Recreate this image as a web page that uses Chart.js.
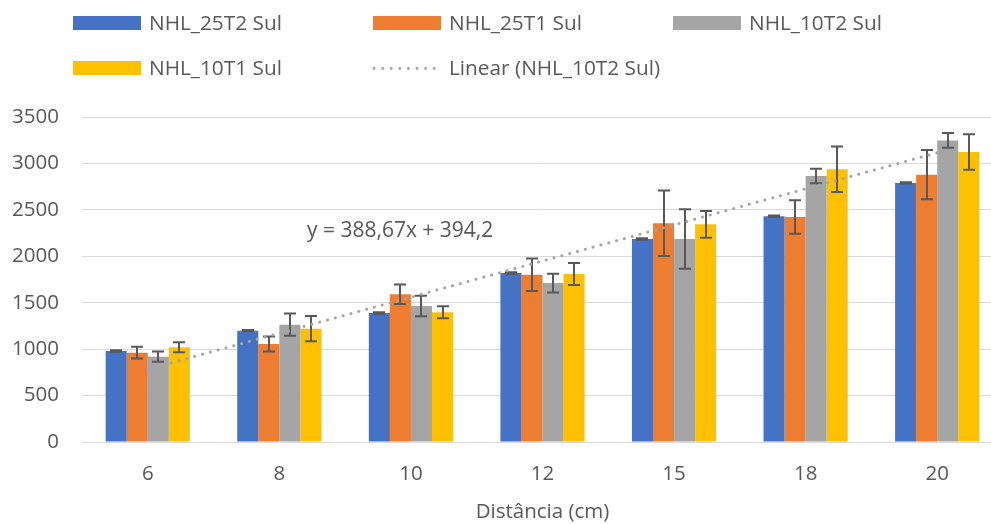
<!DOCTYPE html>
<html>
<head>
<meta charset="utf-8">
<title>Distância (cm)</title>
<script src="https://cdn.jsdelivr.net/npm/chart.js@4.4.1/dist/chart.umd.min.js"></script>
<style>
  html, body { margin: 0; padding: 0; background: #ffffff; overflow: hidden; width: 991px; height: 524px; }
  canvas { display: block; }
</style>
</head>
<body>
<canvas id="chart" width="1004" height="524" style="width:1004px;height:524px"></canvas>
<script>
// Distance categories (cm)
const CATEGORIES = ['6', '8', '10', '12', '15', '18', '20'];

// Series names
const NAME_25T2 = 'NHL_25T2 Sul';
const NAME_25T1 = 'NHL_25T1 Sul';
const NAME_10T2 = 'NHL_10T2 Sul';
const NAME_10T1 = 'NHL_10T1 Sul';
const TREND_NAME = 'Linear (NHL_10T2 Sul)';

// Mean values per distance
const NHL_25T2 = [980, 1199, 1389, 1820, 2186, 2431, 2790];
const NHL_25T1 = [962, 1055, 1591, 1802, 2355, 2423, 2879];
const NHL_10T2 = [919, 1263, 1465, 1712, 2186, 2865, 3248];
const NHL_10T1 = [1020, 1220, 1397, 1809, 2344, 2937, 3123];

// Standard deviations (error bars)
const NHL_25T2_ERR = [8, 7, 7, 8, 7, 7, 7];
const NHL_25T1_ERR = [63, 80, 104, 175, 353, 181, 265];
const NHL_10T2_ERR = [56, 120, 111, 101, 321, 79, 80];
const NHL_10T1_ERR = [54, 136, 65, 118, 144, 246, 190];

// Linear trendline fitted on NHL_10T2 Sul (x = category position 1..7)
const TREND_SLOPE = 388.67;
const TREND_INTERCEPT = 394.2;

// Value axis
const Y_MIN = 0;
const Y_MAX = 3500;
const Y_STEP = 500;
const X_TITLE = 'Distância (cm)';

const COLORS = {
  blue: '#4472C4',
  orange: '#ED7D31',
  gray: '#A5A5A5',
  yellow: '#FFC000',
  text: '#595959',
  grid: '#D9D9D9',
  errorBar: '#595959'
};
const FONT = '"Open Sans", "DejaVu Sans", sans-serif';

const trendValues = CATEGORIES.map((_, i) => TREND_SLOPE * (i + 1) + TREND_INTERCEPT);
const fmtPt = v => String(v).replace('.', ',');
const TREND_LABEL = 'y = ' + fmtPt(TREND_SLOPE) + 'x + ' + fmtPt(TREND_INTERCEPT);

// Error bars drawn right after each bar dataset (so the trendline stays on top)
const errorBarPlugin = {
  id: 'errorBars',
  afterDatasetDraw(chart, args) {
    const ds = chart.data.datasets[args.index];
    if (!ds.errors) return;
    const ctx = chart.ctx;
    const yScale = chart.scales.y;
    const cap = 6;
    ctx.save();
    ctx.strokeStyle = COLORS.errorBar;
    ctx.lineWidth = 2;
    args.meta.data.forEach((bar, i) => {
      const v = ds.data[i];
      const e = ds.errors[i];
      const x = Math.round(bar.x);
      const top = yScale.getPixelForValue(v + e);
      const bot = yScale.getPixelForValue(v - e);
      ctx.beginPath();
      ctx.moveTo(x, top); ctx.lineTo(x, bot);
      ctx.moveTo(x - cap, top); ctx.lineTo(x + cap, top);
      ctx.moveTo(x - cap, bot); ctx.lineTo(x + cap, bot);
      ctx.stroke();
    });
    ctx.restore();
  }
};

// Two-row legend plus the trendline equation
const legendPlugin = {
  id: 'sheetLegend',
  afterDraw(chart) {
    const ctx = chart.ctx;
    const sets = chart.data.datasets;
    const bars = sets.filter(d => d.type !== 'line');
    const trend = sets.find(d => d.type === 'line');
    const items = bars.map(d => ({ label: d.label, color: d.backgroundColor, kind: 'box' }));
    items.push({ label: trend.label, color: trend.borderColor, kind: 'dots' });

    const colX = [73, 373, 673];
    const rowY = [16, 61];
    const boxW = 68, boxH = 14;
    ctx.save();
    ctx.font = '20.8px ' + FONT;
    ctx.textBaseline = 'alphabetic';
    ctx.textAlign = 'left';
    items.forEach((it, k) => {
      const row = k < 3 ? 0 : 1;
      const col = k < 3 ? k : k - 3;
      const x = colX[col];
      const y = rowY[row];
      if (it.kind === 'box') {
        ctx.fillStyle = it.color;
        ctx.fillRect(x, y, boxW, boxH);
      } else {
        ctx.strokeStyle = it.color;
        ctx.lineWidth = 2.8;
        ctx.lineCap = 'round';
        ctx.setLineDash([0.1, 8.5]);
        ctx.beginPath();
        ctx.moveTo(x + 1, y + 7.5);
        ctx.lineTo(x + boxW, y + 7.5);
        ctx.stroke();
        ctx.setLineDash([]);
      }
      ctx.fillStyle = COLORS.text;
      ctx.fillText(it.label, x + boxW + 8, y + 13.5);
    });

    // trendline equation
    const area = chart.chartArea;
    ctx.font = '21px ' + FONT;
    ctx.fillStyle = COLORS.text;
    ctx.fillText(TREND_LABEL, area.left + 225, area.top + 120);
    ctx.restore();
  }
};

function barSet(label, data, errors, color) {
  return {
    type: 'bar',
    label: label,
    data: data,
    errors: errors,
    backgroundColor: color,
    borderWidth: 0,
    order: 1,
    categoryPercentage: 0.64,
    barPercentage: 1.0
  };
}

function build() {
  new Chart(document.getElementById('chart'), {
    data: {
      labels: CATEGORIES,
      datasets: [
        barSet(NAME_25T2, NHL_25T2, NHL_25T2_ERR, COLORS.blue),
        barSet(NAME_25T1, NHL_25T1, NHL_25T1_ERR, COLORS.orange),
        barSet(NAME_10T2, NHL_10T2, NHL_10T2_ERR, COLORS.gray),
        barSet(NAME_10T1, NHL_10T1, NHL_10T1_ERR, COLORS.yellow),
        {
          type: 'line',
          label: TREND_NAME,
          data: trendValues,
          borderColor: COLORS.gray,
          borderWidth: 3,
          borderDash: [0.1, 8],
          borderCapStyle: 'round',
          pointRadius: 0,
          fill: false,
          tension: 0,
          order: 0
        }
      ]
    },
    options: {
      responsive: false,
      devicePixelRatio: 1,
      animation: false,
      layout: { padding: { top: 117, left: 0, right: 1, bottom: 0 } },
      plugins: {
        legend: { display: false },
        tooltip: { enabled: false },
        title: { display: false }
      },
      scales: {
        x: {
          grid: { display: false, drawTicks: false },
          border: { display: false },
          ticks: { padding: 20, color: COLORS.text, font: { family: FONT, size: 20.5 } },
          title: {
            display: true,
            text: X_TITLE,
            color: COLORS.text,
            font: { family: FONT, size: 20.5 },
            padding: { top: 0, bottom: 0 }
          },
          afterFit(s) { s.height = 82; s.paddingLeft = 0; s.paddingRight = 0; }
        },
        y: {
          min: Y_MIN,
          max: Y_MAX,
          grid: { color: COLORS.grid, lineWidth: 1, drawTicks: false },
          border: { display: false },
          ticks: {
            stepSize: Y_STEP,
            padding: 23,
            color: COLORS.text,
            font: { family: FONT, size: 20.5 },
            callback: v => String(v)
          },
          afterFit(s) { s.width = 82; s.paddingTop = 0; s.paddingBottom = 0; }
        }
      }
    },
    plugins: [errorBarPlugin, legendPlugin]
  });
}

if (document.fonts && document.fonts.load) {
  document.fonts.load('20px "Open Sans"').then(build, build);
} else {
  build();
}
</script>
</body>
</html>
